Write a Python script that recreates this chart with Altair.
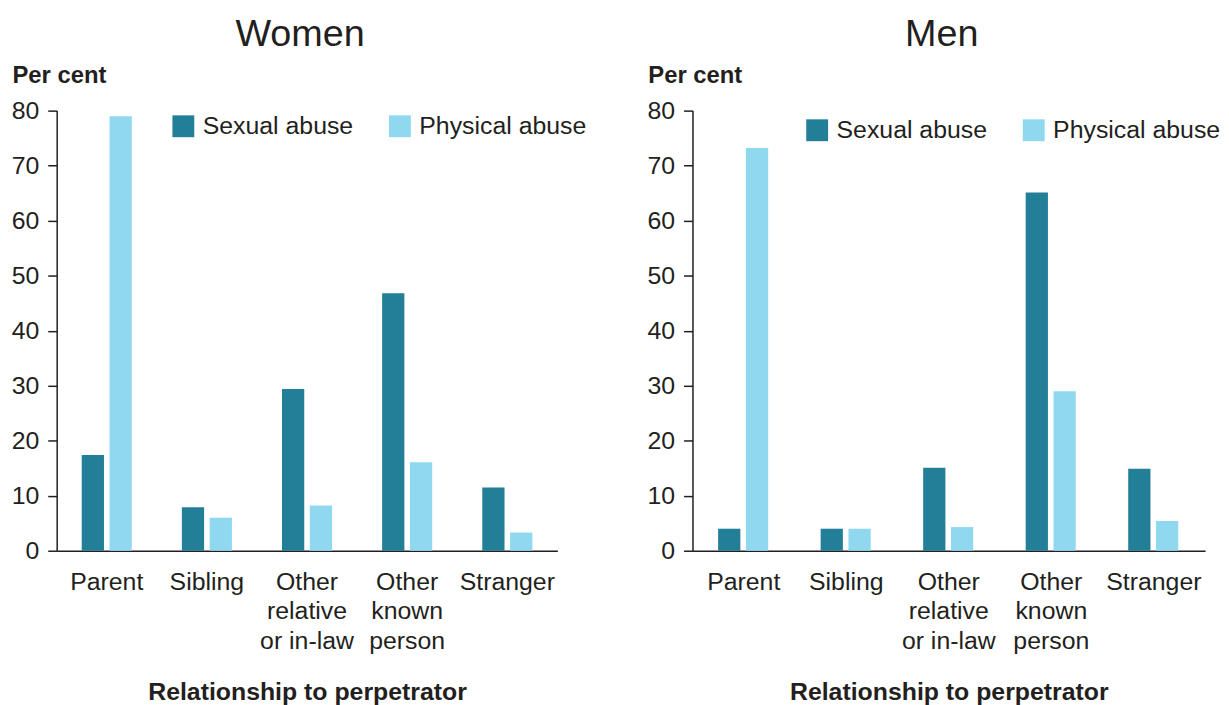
import altair as alt
import pandas as pd

categories = ["Parent", "Sibling", "Other relative or in-law", "Other known person", "Stranger"]
series = ["Sexual abuse", "Physical abuse"]
women_sexual = [17.4, 7.9, 29.4, 46.8, 11.5]
women_physical = [79.0, 6.0, 8.2, 16.1, 3.3]
men_sexual = [4.0, 4.0, 15.1, 65.1, 14.9]
men_physical = [73.2, 4.0, 4.3, 29.0, 5.4]
y_ticks = [0, 10, 20, 30, 40, 50, 60, 70, 80]

FONT = "Liberation Sans"
TXT = "#231F20"
COLORS = ["#237F98", "#8FD8F0"]

label_expr = ("datum.value == 'Other relative or in-law' ? ['Other','relative','or in-law'] : "
              "datum.value == 'Other known person' ? ['Other','known','person'] : datum.value")


def make_df(sexual, physical):
    rows = []
    for c, s, p in zip(categories, sexual, physical):
        rows.append({"cat": c, "series": series[0], "value": s})
        rows.append({"cat": c, "series": series[1], "value": p})
    return pd.DataFrame(rows)


def panel(title, sexual, physical, width, title_dx, leg_x, leg_y):
    df = make_df(sexual, physical)
    return alt.Chart(df, title=alt.TitleParams(
        title, fontSize=38, font=FONT, fontWeight="normal", color=TXT,
        anchor="middle", dx=title_dx, offset=10)).mark_bar().encode(
        x=alt.X("cat:N", sort=categories,
                scale=alt.Scale(paddingInner=0.5, paddingOuter=0.25),
                axis=alt.Axis(title="Relationship to perpetrator", labelAngle=0,
                              labelExpr=label_expr, labelLineHeight=29.5,
                              labelFontSize=25, labelFont=FONT, labelColor=TXT,
                              labelPadding=19, ticks=False, domainColor=TXT,
                              domainWidth=1.5, titleFontSize=25, titleFont=FONT,
                              titleFontWeight="bold", titleColor=TXT,
                              titlePadding=27, labelBaseline="top")),
        xOffset=alt.XOffset("series:N", sort=series,
                            scale=alt.Scale(paddingInner=0.2, paddingOuter=0)),
        y=alt.Y("value:Q", scale=alt.Scale(domain=[0, 80], nice=False),
                axis=alt.Axis(title="Per cent", values=y_ticks, grid=False,
                              tickSize=9, tickColor=TXT, tickWidth=1.5,
                              domainColor=TXT, domainWidth=1.5,
                              labelFontSize=25, labelFont=FONT, labelColor=TXT,
                              labelPadding=9,
                              titleAngle=0, titleAlign="left", titleBaseline="top",
                              titleX=-45, titleY=-47, titleFontSize=24,
                              titleFont=FONT, titleFontWeight="bold",
                              titleColor=TXT)),
        color=alt.Color("series:N", sort=series,
                        scale=alt.Scale(domain=series, range=COLORS),
                        legend=alt.Legend(title=None, orient="none",
                                          legendX=leg_x, legendY=leg_y,
                                          direction="horizontal",
                                          symbolType="square", symbolSize=484,
                                          symbolStrokeWidth=0, symbolOpacity=1,
                                          labelFontSize=25, labelFont=FONT,
                                          labelColor=TXT, labelOffset=7,
                                          labelLimit=1000,
                                          columnPadding=34)),
    ).properties(width=width, height=443)


women = panel("Women", women_sexual, women_physical, 504, -7, 115, 3)
men = panel("Men", men_sexual, men_physical, 516, -7, 113, 7)

chart = alt.hconcat(women, men, spacing=136, bounds="flush").resolve_scale(
    color="independent").resolve_legend(color="independent").properties(
    padding={"left": 3, "top": 6, "right": 0, "bottom": 0}
).configure(background="white").configure_view(strokeWidth=0, stroke="transparent")

chart.save("out.html", embed_options={"renderer": "svg", "actions": False})
